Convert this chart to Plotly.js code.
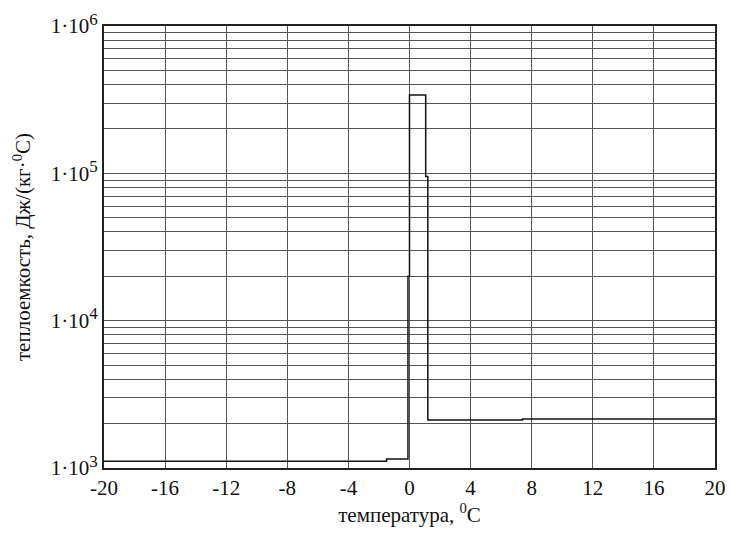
<!DOCTYPE html>
<html>
<head>
<meta charset="utf-8">
<script src="https://cdn.plot.ly/plotly-3.0.1.min.js"></script>
<style>html,body{margin:0;padding:0;background:#fff;}#chart{width:732px;height:533px;}</style>
</head>
<body>
<div id="chart"></div>
<script>
// Data (temperature, °C ; heat capacity, J/(kg·°C))
const temperature = [-20, -1.5, -1.5, -0.1, -0.1, 0.0, 0.0, 1.06, 1.06, 1.2, 1.2, 7.4, 7.4, 20];
const heatCapacity = [1110, 1110, 1150, 1150, 20000, 20000, 340000, 340000, 95000, 95000, 2120, 2120, 2150, 2150];

const xTicks = [-20, -16, -12, -8, -4, 0, 4, 8, 12, 16, 20];
const yDecades = [1e3, 1e4, 1e5, 1e6];
const yDecadeExponents = ['3', '4', '5', '6'];
const yMinorDigits = [2, 3, 4, 5, 6, 7, 8, 9];

const yMinorVals = [];
yDecades.forEach(d => {
  if (d < 1e6) yMinorDigits.forEach(m => yMinorVals.push(d * m));
});
const yDecadeLabels = yDecadeExponents.map(e => '1·10<sup><span style="font-size:17px">' + e + '</span></sup>');

const font = {family: '"Liberation Serif", "Times New Roman", serif', size: 21, color: '#111'};

Plotly.newPlot('chart', [{
  x: temperature, y: heatCapacity, type: 'scatter', mode: 'lines',
  line: {color: '#111', width: 1.5}, hoverinfo: 'skip'
}], {
  width: 732, height: 533,
  margin: {l: 104, r: 17, t: 26, b: 65},
  paper_bgcolor: '#fff', plot_bgcolor: '#fff',
  showlegend: false,
  font: font,
  xaxis: {
    range: [-20, 20], tickvals: xTicks, ticktext: xTicks.map(String),
    showgrid: true, gridcolor: '#555', gridwidth: 1, zeroline: false,
    showline: true, linecolor: '#222', linewidth: 2, mirror: true,
    ticks: '', tickfont: font,
    title: {text: 'температура, <sup>0</sup>C', font: font, standoff: 2}
  },
  yaxis: {
    type: 'log', range: [3, 6], tickvals: yDecades, ticktext: yDecadeLabels,
    showgrid: true, gridcolor: '#555', gridwidth: 1, zeroline: false,
    showline: true, linecolor: '#222', linewidth: 2, mirror: true,
    ticks: '', tickfont: font,
    minor: {tickvals: yMinorVals, showgrid: true, gridcolor: '#555', gridwidth: 1, ticks: ''},
    title: {text: 'теплоемкость, Дж/(кг·<sup>0</sup>C)', font: font, standoff: 14}
  }
}, {staticPlot: true, displayModeBar: false});
</script>
</body>
</html>
